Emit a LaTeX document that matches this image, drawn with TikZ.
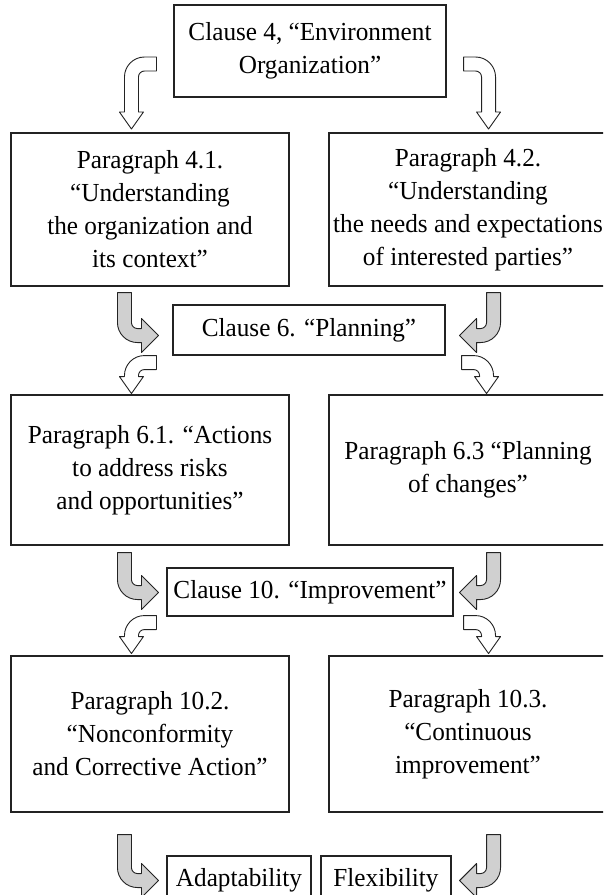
\documentclass[tikz,border=0pt]{standalone}
\usepackage{fontspec}
\setmainfont{Liberation Serif}[FakeStretch=0.97]
\usetikzlibrary{calc}

\definecolor{lineGray}{RGB}{35, 35, 35}
\definecolor{arrowGray}{RGB}{208, 208, 208}

\tikzset{
  box/.style={draw=lineGray, line width=1.1pt, align=center, inner sep=0pt,
    font=\fontsize{26}{33}\selectfont},
  openarrow/.style={draw=lineGray, fill=white, line width=0.9pt, line join=round},
  grayarrow/.style={draw=lineGray, fill=arrowGray, line width=0.9pt, line join=round}
}

% bent block arrow: tail at #2, #4 = run to the bend, #5 = run from the bend to the tip,
% #6 = half width of the head (band is 14 wide, head 17 long)
\newcommand{\bentarrow}[6]{%
  \begin{scope}[shift={#2}, #3]
    \draw[#1] (0,-7) -- ({-#4+13},-7) arc[start angle=270, end angle=180, radius=20]
      -- ({-#4-7},{#5-17}) -- ({-#4-#6},{#5-17}) -- ({-#4},{#5})
      -- ({-#4+#6},{#5-17}) -- ({-#4+7},{#5-17}) -- ({-#4+7},13)
      arc[start angle=180, end angle=270, radius=6] -- (0,7) -- cycle;
  \end{scope}}

\begin{document}
\begin{tikzpicture}[x=1pt, y=-1pt]
  \path[use as bounding box, clip] (0,0) rectangle (603,895);

  % Clause boxes in the middle
  \node[box, minimum width=272, minimum height=92] (top) at (310,51)
    {Clause 4, “Environment\\Organization”};
  \node[box, minimum width=272, minimum height=50] (c6) at (309,330)
    {Clause 6. “Planning”};
  \node[box, minimum width=286, minimum height=48] (c10) at (310,592)
    {Clause 10. “Improvement”};

  % Paragraph boxes, two columns
  \node[box, minimum width=278, minimum height=153] (p41) at (150,209.5)
    {Paragraph 4.1.\\“Understanding\\the organization and\\its context”};
  \node[box, minimum width=278, minimum height=153] (p42) at (468,209.5)
    {Paragraph 4.2.\\“Understanding\\the needs and expectations\\of interested parties”};
  \node[box, minimum width=278, minimum height=150] (p61) at (150,470)
    {Paragraph 6.1. “Actions\\to address risks\\and opportunities”};
  \node[box, minimum width=278, minimum height=150] (p63) at (468,470)
    {Paragraph 6.3 “Planning\\of changes”};
  \node[box, minimum width=278, minimum height=156] (p102) at (150,734)
    {Paragraph 10.2.\\“Nonconformity\\and Corrective Action”};
  \node[box, minimum width=278, minimum height=156] (p103) at (468,734)
    {Paragraph 10.3.\\“Continuous\\improvement”};

  % Results at the bottom
  \node[box, minimum width=144, minimum height=48] (adapt) at (239,880) {Adaptability};
  \node[box, minimum width=130, minimum height=48] (flex) at (386,880) {Flexibility};

  % Clause 4 -> paragraphs 4.1, 4.2
  \bentarrow{openarrow}{($(top.west)+(-17,13)$)}{}{25}{65}{12}
  \bentarrow{openarrow}{($(top.east)+(17,13)$)}{xscale=-1}{25}{65}{12}

  % paragraphs 4.x -> Clause 6
  \bentarrow{grayarrow}{($(p41.south west)+(114,6)$)}{rotate=90}{43}{34}{17}
  \bentarrow{grayarrow}{($(p42.south east)+(-114,6)$)}{xscale=-1, rotate=90}{43}{34}{17}

  % Clause 6 -> paragraphs 6.1, 6.3
  \bentarrow{openarrow}{($(c6.south west)+(-16,7)$)}{}{25}{31}{12}
  \bentarrow{openarrow}{($(c6.south east)+(16,7)$)}{xscale=-1}{25}{31}{12}

  % paragraphs 6.x -> Clause 10
  \bentarrow{grayarrow}{($(p61.south west)+(114,7)$)}{rotate=90}{40}{34}{17}
  \bentarrow{grayarrow}{($(p63.south east)+(-114,7)$)}{xscale=-1, rotate=90}{40}{34}{17}

  % Clause 10 -> paragraphs 10.2, 10.3
  \bentarrow{openarrow}{($(c10.south west)+(-10,6)$)}{}{25}{31}{12}
  \bentarrow{openarrow}{($(c10.south east)+(10,6)$)}{xscale=-1}{25}{31}{12}

  % paragraphs 10.x -> results
  \bentarrow{grayarrow}{($(p102.south west)+(114,22)$)}{rotate=90}{46}{34}{17}
  \bentarrow{grayarrow}{($(p103.south east)+(-114,22)$)}{xscale=-1, rotate=90}{46}{34}{17}
\end{tikzpicture}
\end{document}
